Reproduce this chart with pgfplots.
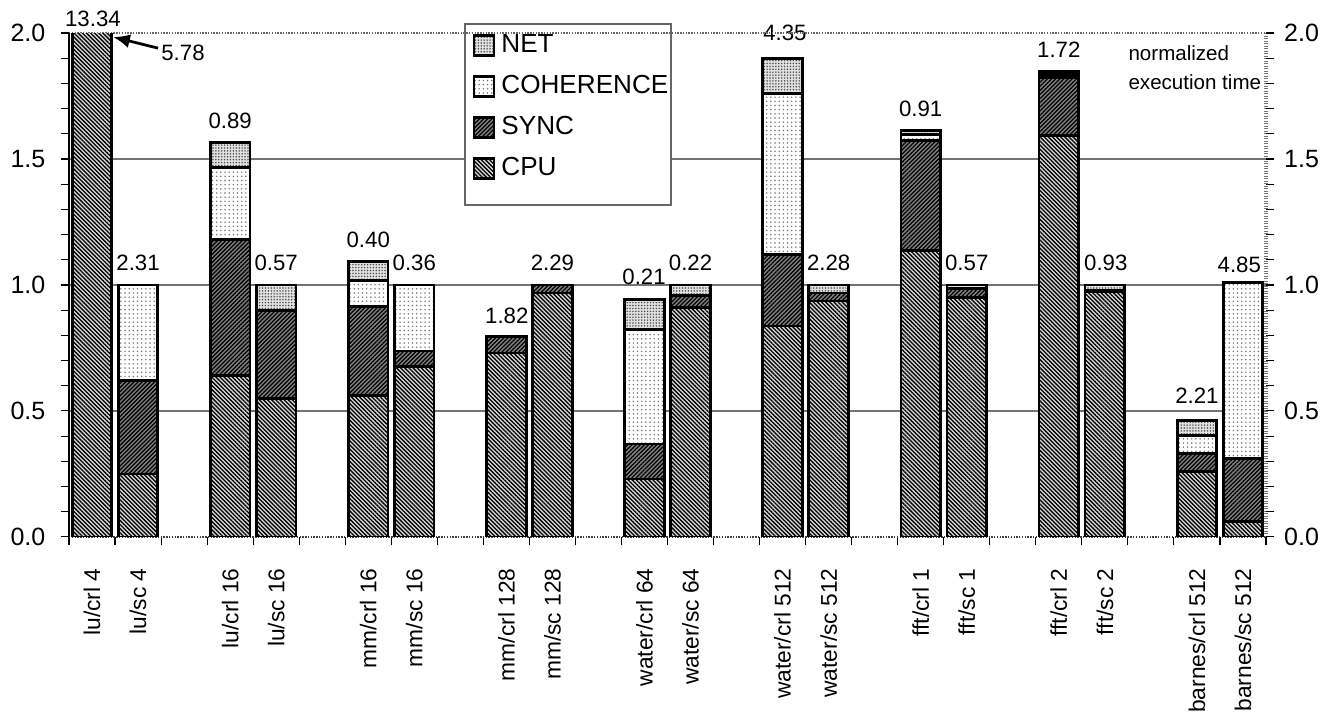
\documentclass[border=0pt]{standalone}
\usepackage{fontspec}
\setmainfont{Liberation Sans}
\usepackage{pgfplots}
\pgfplotsset{compat=1.18}
\usepackage{pgfplotstable}
\usetikzlibrary{patterns.meta,arrows.meta}

\pgfplotstableread{
x    cpu   sync  coh   net
0.5  5.78  0     0     0
1.5  0.25  0.37  0.38  0
3.5  0.641 0.538 0.286 0.099
4.5  0.549 0.349 0     0.102
6.5  0.56  0.353 0.105 0.076
7.5  0.675 0.063 0.262 0
9.5  0.73  0.065 0     0
10.5 0.968 0.032 0     0
12.5 0.23  0.139 0.454 0.119
13.5 0.909 0.05  0     0.041
15.5 0.837 0.283 0.64  0.14
16.5 0.936 0.032 0     0.032
18.5 1.138 0.435 0.024 0.016
19.5 0.95  0.035 0     0.015
21.5 1.593 0.229 0.012 0.012
22.5 0.972 0.008 0     0.02
24.5 0.26  0.072 0.071 0.059
25.5 0.06  0.25  0.70  0
}\data

\pgfplotsset{
 cpu/.style={draw=black, line width=1pt, preaction={fill=black!15}, pattern={Lines[angle=-45,distance=1.05pt,line width=0.5pt]}, pattern color=black},
 sync/.style={draw=black, line width=1pt, preaction={fill=black!50}, pattern={Lines[angle=45,distance=1.05pt,line width=0.45pt]}, pattern color=black},
 coh/.style={draw=black, line width=1pt, preaction={fill=white}, pattern={Dots[distance=1.5pt,radius=0.3pt]}, pattern color=black!55},
 net/.style={draw=black, line width=1pt, preaction={fill=black!12}, pattern={Dots[distance=1.05pt,radius=0.3pt]}, pattern color=black!70},
}
\newcommand{\lbl}{\fontsize{8}{9.5}\selectfont}

\begin{document}
\begin{tikzpicture}
\begin{axis}[
  scale only axis, width=430.9pt, height=181.4pt,
  xmin=0, xmax=26, ymin=0, ymax=2,
  ybar stacked, bar width=0.86,
  clip mode=individual,
  axis line style={draw=none},
  tick align=outside,
  xtick pos=bottom, ytick pos=left,
  major tick length=3pt, minor tick length=3pt,
  tick style={black, line width=0.4pt},
  xtick={0.5,1.5,3.5,4.5,6.5,7.5,9.5,10.5,12.5,13.5,15.5,16.5,18.5,19.5,21.5,22.5,24.5,25.5},
  xticklabels={lu/crl 4, lu/sc 4, lu/crl 16, lu/sc 16, mm/crl 16, mm/sc 16, mm/crl 128, mm/sc 128, water/crl 64, water/sc 64, water/crl 512, water/sc 512, fft/crl 1, fft/sc 1, fft/crl 2, fft/sc 2, barnes/crl 512, barnes/sc 512},
  xtick style={draw=none},
  xticklabel style={yshift=-4.8pt, rotate=90, anchor=east, font=\fontsize{8.2}{10}\selectfont},
  extra x ticks={0,1,...,26},
  extra x tick labels={},
  extra x tick style={xtick style={draw=black}},
  ytick={0,0.5,1,1.5,2},
  minor y tick num=4,
  yticklabel style={font=\fontsize{9}{10}\selectfont, /pgf/number format/fixed, /pgf/number format/fixed zerofill, /pgf/number format/precision=1, /pgf/number format/assume math mode=true, xshift=-2pt},
  extra y ticks={0.5,1,1.5},
  extra y tick labels={},
  extra y tick style={grid=major, major grid style={black!55, line width=0.45pt}, ytick style={draw=none}},
  legend image code/.code={\draw[#1, line width=1pt] (0pt,-3.6pt) rectangle (7.2pt,3.6pt);},
  reverse legend,
  legend cell align=left,
  legend style={at={(axis description cs:0.3367,1.017)}, anchor=north west, draw=none, fill=none, inner sep=0pt, row sep=0pt, column sep=2.2pt, font=\fontsize{9.4}{11}\selectfont, nodes={inner sep=0pt, minimum height=14.8pt}},
]
\addplot[cpu] table[x=x,y=cpu]{\data};
\addplot[sync] table[x=x,y=sync]{\data};
\addplot[coh] table[x=x,y=coh]{\data};
\addplot[net] table[x=x,y=net]{\data};
\legend{CPU,SYNC,COHERENCE,NET}

\coordinate (SW) at (rel axis cs:0,0);
\coordinate (NE) at (rel axis cs:1,1);
\draw[black, line width=0.4pt] (rel axis cs:0,0) -- (rel axis cs:0,1);
\draw[black!75, line width=0.9pt, dash pattern=on 0.5pt off 0.5pt] (rel axis cs:0,0) -- (rel axis cs:1,0);
\draw[black!60, line width=0.9pt, dash pattern=on 0.5pt off 0.5pt] (rel axis cs:0,1) -- (rel axis cs:1,1);
\draw[black!55, line width=1.3pt, dash pattern=on 0.5pt off 0.4pt] (rel axis cs:1,0) -- (rel axis cs:1,1);

\draw[black!60, line width=0.5pt, fill=white] (rel axis cs:0.3308,0.6587) rectangle (rel axis cs:0.5029,1.0179);

\node[anchor=west, align=left, inner sep=0pt, font=\fontsize{7.4}{10.4}\selectfont] at (rel axis cs:0.8847,0.9315) {normalized\\execution time};

\draw[-{Latex[length=6pt,width=5pt]}, line width=1pt] (axis cs:1.933,1.940) -- (axis cs:0.96,1.984);
\node[font=\lbl] at (axis cs:2.476,1.921) {5.78};
\node[font=\lbl] at (axis cs:0.52,2.056) {13.34};
\node[font=\lbl] at (axis cs:1.5,1.087) {2.31};
\node[font=\lbl] at (axis cs:3.5,1.651) {0.89};
\node[font=\lbl] at (axis cs:4.5,1.087) {0.57};
\node[font=\lbl] at (axis cs:6.5,1.179) {0.40};
\node[font=\lbl] at (axis cs:7.5,1.087) {0.36};
\node[font=\lbl] at (axis cs:9.51,0.877) {1.82};
\node[font=\lbl] at (axis cs:10.5,1.087) {2.29};
\node[font=\lbl] at (axis cs:12.49,1.032) {0.21};
\node[font=\lbl] at (axis cs:13.5,1.087) {0.22};
\node[font=\lbl] at (axis cs:15.55,2.002) {4.35};
\node[font=\lbl] at (axis cs:16.5,1.087) {2.28};
\node[font=\lbl] at (axis cs:18.5,1.698) {0.91};
\node[font=\lbl] at (axis cs:19.5,1.087) {0.57};
\node[font=\lbl] at (axis cs:21.5,1.933) {1.72};
\node[font=\lbl] at (axis cs:22.52,1.087) {0.93};
\node[font=\lbl] at (axis cs:24.5,0.56) {2.21};
\node[font=\lbl] at (axis cs:25.42,1.079) {4.85};
\end{axis}

\begin{axis}[
  scale only axis, width=430.9pt, height=181.4pt,
  xmin=0, xmax=26, ymin=0, ymax=2,
  hide x axis, axis y line*=right,
  axis line style={draw=none},
  tick align=outside,
  major tick length=3pt, minor tick length=3pt,
  tick style={black, line width=0.4pt},
  ytick={0,0.5,1,1.5,2},
  minor y tick num=4,
  yticklabel style={font=\fontsize{9}{10}\selectfont, /pgf/number format/fixed, /pgf/number format/fixed zerofill, /pgf/number format/precision=1, /pgf/number format/assume math mode=true},
]
\end{axis}

\pgfresetboundingbox
\path ([shift={(-24.84pt,-63.7pt)}]SW) rectangle ([shift={(25.92pt,11.88pt)}]NE);
\end{tikzpicture}
\end{document}
